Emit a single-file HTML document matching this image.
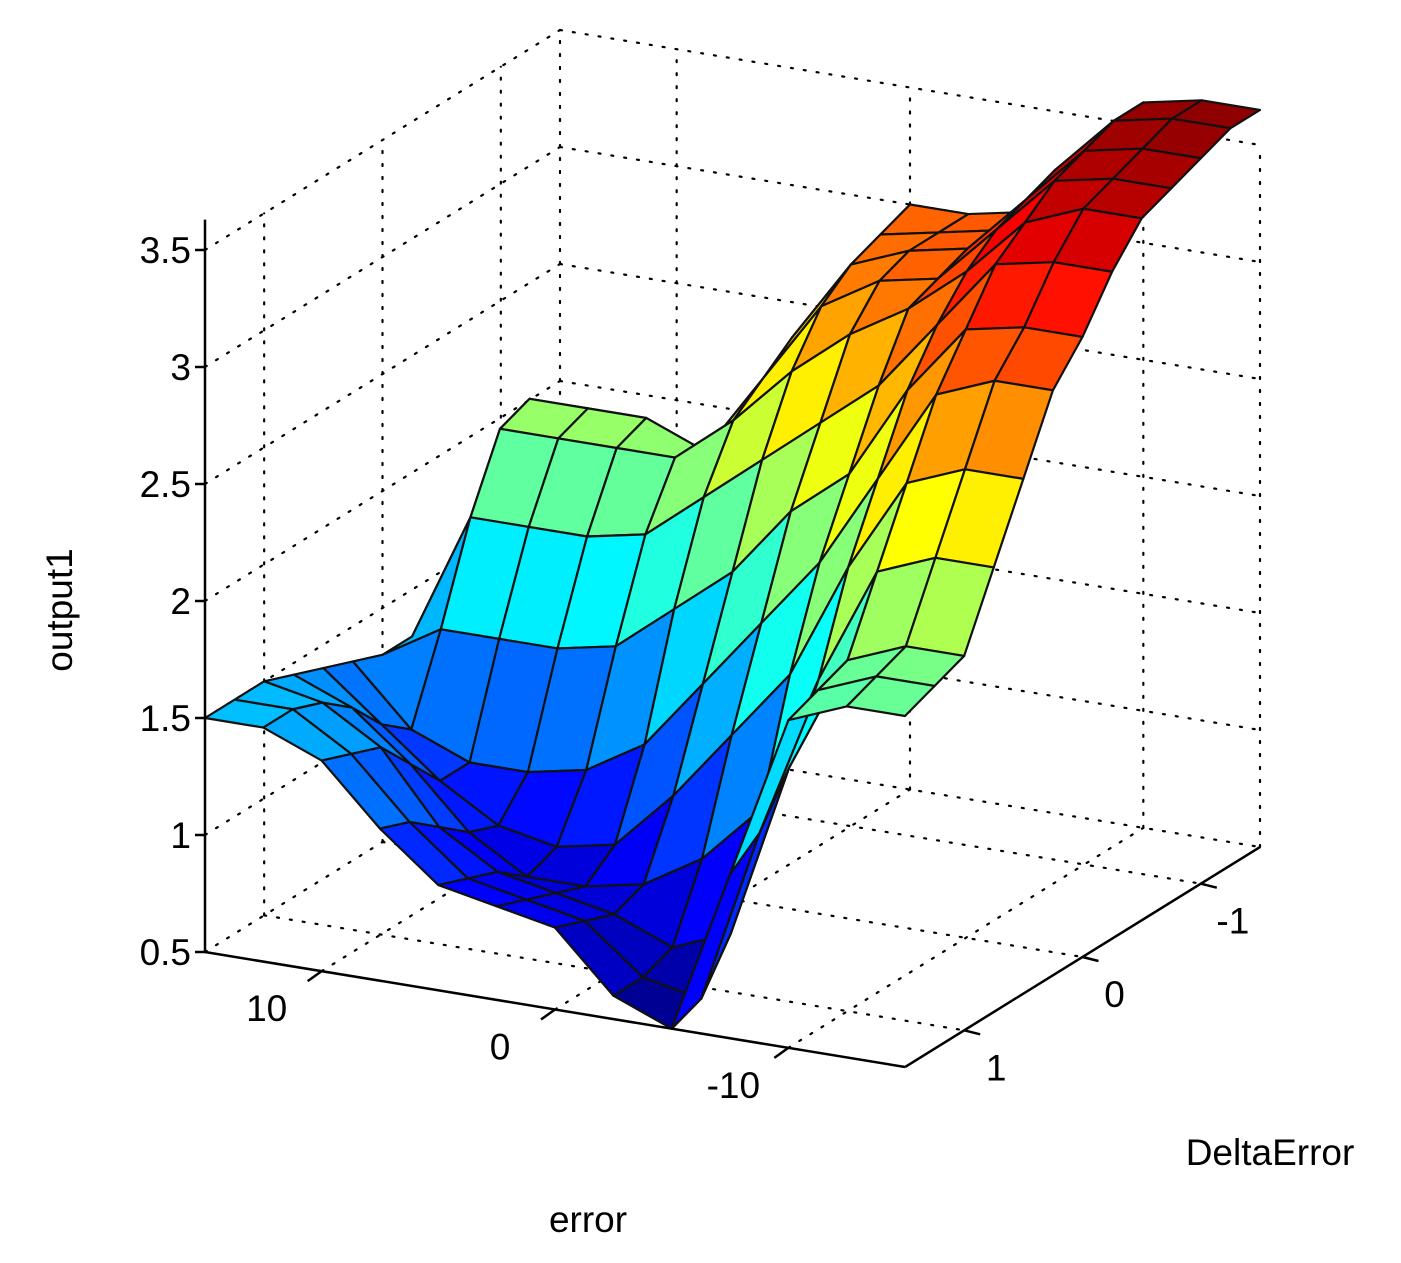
<!DOCTYPE html>
<html><head><meta charset="utf-8"><style>
html,body{margin:0;padding:0;background:#fff;}
svg text{font-family:"Liberation Sans",sans-serif;fill:#000;}
</style></head><body>
<svg id="chart" width="1401" height="1258" viewBox="0 0 1401 1258" xmlns="http://www.w3.org/2000/svg">
<g id="grid"></g>
<g id="surf"></g>
<g id="axes"></g>
</svg>
<script>
// grid coordinates
const errorVals = [15,12.5,10,7.5,5,2.5,0,-2.5,-5,-7.5,-10,-12.5,-15];
const deltaVals = [1.5,1.25,1,0.75,0.5,0.25,0,-0.25,-0.5,-0.75,-1,-1.25,-1.5];
// output1 rows, one per deltaVals entry, columns follow errorVals
const zRow0  = [1.5,1.5,1.4,1.15,0.95,0.9,0.85,0.6,0.5,1.2,1.9,2.0,2.0];
const zRow1  = [1.5,1.5,1.35,1.1,0.9,0.85,0.8,0.6,0.55,1.3,1.95,2.05,2.05];
const zRow2  = [1.5,1.45,1.3,1.0,0.85,0.8,0.75,0.65,0.75,1.5,2.0,2.1,2.1];
const zRow3  = [1.45,1.35,1.15,0.9,0.75,0.75,0.8,0.95,1.2,1.8,2.3,2.4,2.4];
const zRow4  = [1.4,1.2,1.0,0.85,0.8,0.85,1.1,1.4,1.7,2.2,2.6,2.7,2.7];
const zRow5  = [1.35,1.1,1.0,1.0,1.05,1.2,1.5,1.8,2.1,2.5,2.9,3.0,3.0];
const zRow6  = [1.3,1.45,1.45,1.45,1.5,1.7,1.9,2.2,2.4,2.8,3.1,3.15,3.15];
const zRow7  = [1.3,1.85,1.85,1.85,1.9,2.1,2.3,2.5,2.7,3.0,3.3,3.35,3.35];
const zRow8  = [1.3,2.15,2.15,2.15,2.15,2.35,2.6,2.8,2.95,3.15,3.4,3.5,3.5];
const zRow9  = [1.3,2.2,2.2,2.2,2.1,2.45,2.8,2.95,3.0,3.25,3.5,3.55,3.55];
const zRow10 = [1.3,1.5,1.5,1.6,1.9,2.55,2.9,3.0,3.05,3.3,3.55,3.6,3.6];
const zRow11 = [1.3,1.4,1.4,1.5,1.9,2.6,2.95,3.0,3.05,3.35,3.6,3.65,3.65];
const zRow12 = [1.3,1.4,1.4,1.5,1.9,2.6,3.0,3.0,3.05,3.35,3.6,3.65,3.65];
const zRows = [zRow0,zRow1,zRow2,zRow3,zRow4,zRow5,zRow6,zRow7,zRow8,zRow9,zRow10,zRow11,zRow12];
const zTicks = [0.5,1,1.5,2,2.5,3,3.5];
const zTickLabels = ["0.5","1","1.5","2","2.5","3","3.5"];
const eTicks = [10,0,-10];
const eTickLabels = ["10","0","-10"];
const dTicks = [1,0,-1];
const dTickLabels = ["1","0","-1"];

const NS="http://www.w3.org/2000/svg";
function P(e,d,z){
  const u=(15-e)/30, v=(1.5-d)/3;
  return [205+u*700+v*355, 952+u*115-v*220-(z-0.5)*234];
}
function jet(t){
  t=Math.max(0,Math.min(1,t));
  const r=Math.max(0,Math.min(1,1.5-Math.abs(4*t-3)));
  const g=Math.max(0,Math.min(1,1.5-Math.abs(4*t-2)));
  const b=Math.max(0,Math.min(1,1.5-Math.abs(4*t-1)));
  return `rgb(${Math.round(r*255)},${Math.round(g*255)},${Math.round(b*255)})`;
}
function mk(tag,attrs,parent){const el=document.createElementNS(NS,tag);for(const k in attrs)el.setAttribute(k,attrs[k]);parent.appendChild(el);return el;}
const grid=document.getElementById('grid'), surf=document.getElementById('surf'), axes=document.getElementById('axes');
const dot={stroke:'#000','stroke-width':2.2,'stroke-dasharray':'2 11','stroke-linecap':'round',fill:'none'};
function dline(a,b,name){const l=mk('line',Object.assign({x1:a[0],y1:a[1],x2:b[0],y2:b[1]},dot),grid);

}
const zTop=3.5;
zTicks.forEach(z=>{
  dline(P(15,1.5,z),P(15,-1.5,z),'left-wall-gridline');
  dline(P(15,-1.5,z),P(-15,-1.5,z),'back-wall-gridline');
});
eTicks.forEach(e=>{
  dline(P(e,-1.5,0.5),P(e,-1.5,zTop),'back-wall-vertical-gridline');
  dline(P(e,1.5,0.5),P(e,-1.5,0.5),'floor-gridline');
});
dTicks.forEach(d=>{
  dline(P(15,d,0.5),P(15,d,zTop),'left-wall-vertical-gridline');
  dline(P(15,d,0.5),P(-15,d,0.5),'floor-gridline');
});
dline(P(15,-1.5,0.5),P(15,-1.5,zTop),'corner-gridline');
dline(P(-15,-1.5,0.5),P(-15,-1.5,zTop),'corner-gridline');

const cells=[];
for(let i=0;i<deltaVals.length-1;i++)for(let j=0;j<errorVals.length-1;j++){
  const v=(i+0.5)/(deltaVals.length-1), u=(j+0.5)/(errorVals.length-1);
  cells.push({i,j,key:v+(1-u)});
}
cells.sort((a,b)=>b.key-a.key);
cells.forEach(c=>{
  const {i,j}=c;
  const pts=[[i,j],[i,j+1],[i+1,j+1],[i+1,j]].map(([a,b])=>P(errorVals[b],deltaVals[a],zRows[a][b]));
  const zm=(zRows[i][j]+zRows[i][j+1]+zRows[i+1][j]+zRows[i+1][j+1])/4;
  const p=mk('polygon',{points:pts.map(q=>q.join(',')).join(' '),fill:jet((zm-0.5)/3.2),stroke:'#111','stroke-width':2.2,'stroke-linejoin':'round'},surf);
  
  
});

function aline(a,b,name){const l=mk('line',{x1:a[0],y1:a[1],x2:b[0],y2:b[1],stroke:'#000','stroke-width':2.5},axes);

}
function txt(x,y,s,anchor,name,extra){const t=mk('text',Object.assign({x,y,'font-size':37,'text-anchor':anchor},extra||{}),axes);t.textContent=s;

return t;}
aline(P(15,1.5,0.5),P(15,1.5,3.63),'z-axis-line');
aline(P(15,1.5,0.5),P(-15,1.5,0.5),'error-axis-line');
aline(P(-15,1.5,0.5),P(-15,-1.5,0.5),'delta-error-axis-line');
zTicks.forEach((z,k)=>{const p=P(15,1.5,z);aline([p[0]-10,p[1]],[p[0],p[1]],'z-tick');
txt(p[0]-14,p[1]+13,zTickLabels[k],'end','z-tick-label');});
eTicks.forEach((e,k)=>{const p=P(e,1.5,0.5);aline([p[0],p[1]],[p[0]-14,p[1]+10],'error-tick');
txt(p[0]-55,p[1]+50,eTickLabels[k],'middle','error-tick-label');});
dTicks.forEach((d,k)=>{const p=P(-15,d,0.5);aline([p[0],p[1]],[p[0]+16,p[1]+4],'delta-tick');
txt(p[0]+32,p[1]+50,dTickLabels[k],'middle','delta-tick-label');});
txt(72,610,'output1','middle','z-axis-title',{transform:'rotate(-90 72 610)'});
txt(588,1232,'error','middle','error-axis-title');
txt(1270,1165,'DeltaError','middle','delta-error-axis-title');
</script>
</body></html>
